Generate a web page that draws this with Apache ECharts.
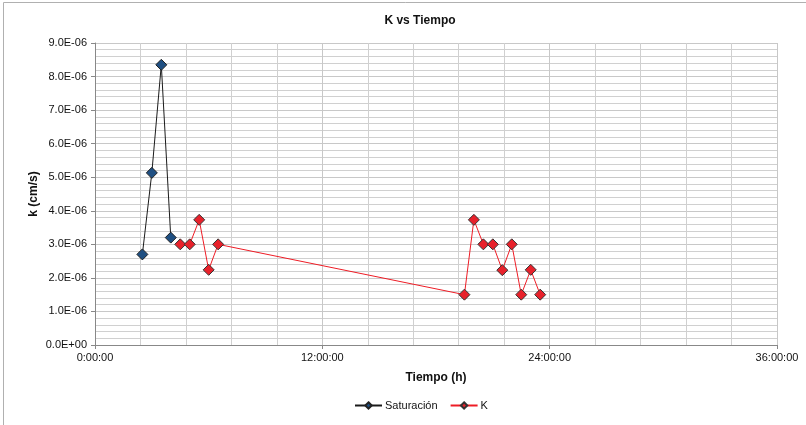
<!DOCTYPE html>
<html>
<head>
<meta charset="utf-8">
<script src="https://cdn.jsdelivr.net/npm/echarts@6/dist/echarts.min.js"></script>
<style>
  html, body { margin: 0; padding: 0; background: #fff; }
  #box1 { width: 806px; height: 425px; }
</style>
</head>
<body>
<div id="box1"></div>
<script>
// tiempo en horas, k en cm/s
var satHoras = [2.5, 3.0, 3.5, 4.0];
var satK = [2.7e-6, 5.13e-6, 8.35e-6, 3.2e-6];
var kHoras = [4.5, 5.0, 5.5, 6.0, 6.5, 19.5, 20.0, 20.5, 21.0, 21.5, 22.0, 22.5, 23.0, 23.5];
var kValores = [3.0e-6, 3.0e-6, 3.73e-6, 2.24e-6, 3.0e-6, 1.5e-6, 3.73e-6, 3.0e-6, 3.0e-6, 2.23e-6, 3.0e-6, 1.5e-6, 2.24e-6, 1.5e-6];
var xTicks = ['0:00:00', '12:00:00', '24:00:00', '36:00:00'];

function pares(xs, ys) {
    return xs.map(function (x, i) { return [x, ys[i]]; });
}

function expLabel(v) {
    var s = Number(v).toExponential(1).split('e');
    var ex = parseInt(s[1], 10);
    var sign = ex < 0 ? '-' : '+';
    var num = Math.abs(ex);
    return s[0] + 'E' + sign + (num < 10 ? '0' + num : num);
}

window.onload = function () {
    var myChart = echarts.init(document.getElementById("box1"));
    var fuente = 'Liberation Sans, Arial, sans-serif';

    var option = {
        animation: false,
        textStyle: { fontFamily: fuente },
        graphic: [{
            type: 'rect',
            shape: { x: 3.5, y: 2.5, width: 820, height: 430 },
            style: { fill: 'none', stroke: '#b0b0b0', lineWidth: 1 }
        }],
        title: {
            text: 'K vs Tiempo',
            left: 415,
            top: 10,
            textAlign: 'center',
            textStyle: { fontSize: 12, fontWeight: 'bold', color: '#111', fontFamily: fuente }
        },
        legend: {
            bottom: 9,
            left: 349,
            itemWidth: 27,
            itemHeight: 8,
            itemGap: 12,
            textStyle: { fontSize: 11, color: '#111', fontFamily: fuente, padding: [0, 0, 0, -2] },
            data: ['Saturación', 'K']
        },
        grid: { left: 95, right: 29, top: 43, bottom: 80 },
        xAxis: {
            type: 'value',
            min: 0,
            max: 36,
            interval: 12,
            name: 'Tiempo (h)',
            nameLocation: 'middle',
            nameGap: 27,
            nameTextStyle: { fontSize: 12, fontWeight: 'bold', color: '#111' },
            axisLine: { lineStyle: { color: '#888' } },
            axisTick: { show: true, length: 4, lineStyle: { color: '#888' } },
            axisLabel: {
                fontSize: 11, color: '#111', margin: 7,
                formatter: function (v) { return xTicks[Math.round(v / 12)]; }
            },
            splitLine: { show: true, lineStyle: { color: '#c8c8c8' } },
            minorTick: { show: false, splitNumber: 5 },
            minorSplitLine: { show: true, lineStyle: { color: '#d0d0d0' } }
        },
        yAxis: {
            type: 'value',
            min: 0,
            max: 9e-6,
            interval: 1e-6,
            name: 'k (cm/s)',
            nameLocation: 'middle',
            nameGap: 55,
            nameMoveOverlap: false,
            nameTextStyle: { fontSize: 12, fontWeight: 'bold', color: '#111' },
            axisLine: { show: true, lineStyle: { color: '#888' } },
            axisTick: { show: true, length: 4, lineStyle: { color: '#888' } },
            axisLabel: { fontSize: 11, color: '#111', margin: 8, formatter: expLabel },
            splitLine: { show: true, lineStyle: { color: '#c8c8c8' } },
            minorTick: { show: false, splitNumber: 5 },
            minorSplitLine: { show: true, lineStyle: { color: '#d0d0d0' } }
        },
        series: [{
            name: 'Saturación',
            type: 'line',
            data: pares(satHoras, satK),
            symbol: 'diamond',
            symbolSize: 11,
            lineStyle: { color: '#1a1a1a', width: 1 },
            itemStyle: { color: '#1f4f82', borderColor: '#222', borderWidth: 1 }
        }, {
            name: 'K',
            type: 'line',
            data: pares(kHoras, kValores),
            symbol: 'diamond',
            symbolSize: 11,
            lineStyle: { color: '#ee1c25', width: 1 },
            itemStyle: { color: '#e8212b', borderColor: '#333', borderWidth: 1 }
        }]
    };
    myChart.setOption(option);
    window.addEventListener('resize', function () {
        myChart.resize();
    });
}
</script>
</body>
</html>
